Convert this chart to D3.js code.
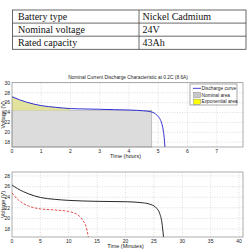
<!DOCTYPE html>
<html>
<head>
<meta charset="utf-8">
<script src="https://cdn.jsdelivr.net/npm/d3@7"></script>
<style>
  body { margin: 0; background: #fff; }
  svg { display: block; }
</style>
</head>
<body>
<div id="fig"></div>
<script>
// datos de la tabla
const tableRows = [
  ["Battery type", "Nickel Cadmium"],
  ["Nominal voltage", "24V"],
  ["Rated capacity", "43Ah"]
];

// grafico superior: descarga nominal (horas, voltios)
const dischargeCurve = [
  [0, 27.2], [0.25, 26.6], [0.5, 26.1], [0.75, 25.7], [1, 25.4], [1.5, 25.05],
  [2, 24.8], [2.5, 24.72], [3, 24.65], [3.5, 24.58], [4, 24.5], [4.5, 24.35],
  [4.78, 24.1], [4.95, 23.5], [5.05, 22.8], [5.12, 21.8], [5.17, 20.5],
  [5.2, 19.2], [5.23, 17]
];
const nominalArea = { tEnd: 4.78, v: 24.4 };
const expEnd = 2;
const topXTicks = [0, 1, 2, 3, 4, 5, 6, 7];
const topYTicks = [18, 20, 22, 24, 26, 28, 30];
const legendItems = ["Discharge curve", "Nominal area", "Exponential area"];

// grafico inferior: minutos, voltios
const blackCurve = [
  [0, 26.3], [1, 25.6], [2, 25.05], [3, 24.6], [5, 23.95], [7.5, 23.6],
  [10, 23.4], [15, 23.22], [20, 23.15], [23, 22.95], [24.5, 22.6],
  [25.5, 21.9], [26, 21.0], [26.4, 19.3], [26.7, 16.5]
];
const redCurve = [
  [0, 24.8], [1, 23.6], [2, 22.8], [3, 22.3], [5, 21.8], [7.5, 21.6],
  [10, 21.3], [11, 21.0], [11.8, 20.5], [12.5, 19.6], [13, 18.6],
  [13.25, 17.6], [13.45, 16.5]
];
const botXTicks = [0, 5, 10, 15, 20, 25, 30, 35, 40];
const botYTicks = [18, 20, 22, 24, 26, 28];

const W = 252, H = 250;
const svg = d3.select("#fig").append("svg").attr("width", W).attr("height", H);

// ---- tabla
const tbl = { x0: 12.5, x1: 246, xDiv: 139, y0: 10, rowH: 13.1 };
const tg = svg.append("g").attr("id", "tabla");
tg.append("rect")
  .attr("x", tbl.x0).attr("y", tbl.y0)
  .attr("width", tbl.x1 - tbl.x0).attr("height", tbl.rowH * tableRows.length)
  .attr("fill", "none").attr("stroke", "#444").attr("stroke-width", 0.8);
tg.append("line")
  .attr("x1", tbl.xDiv).attr("x2", tbl.xDiv)
  .attr("y1", tbl.y0).attr("y2", tbl.y0 + tbl.rowH * tableRows.length)
  .attr("stroke", "#444").attr("stroke-width", 0.8);
tableRows.forEach((r, i) => {
  if (i > 0) {
    tg.append("line")
      .attr("x1", tbl.x0).attr("x2", tbl.x1)
      .attr("y1", tbl.y0 + i * tbl.rowH).attr("y2", tbl.y0 + i * tbl.rowH)
      .attr("stroke", "#444").attr("stroke-width", 0.8);
  }
  const yy = tbl.y0 + i * tbl.rowH + 9.8;
  tg.append("text").attr("x", 18).attr("y", yy).text(r[0])
    .attr("font-family", "Liberation Serif, Times New Roman, serif")
    .attr("font-size", "10px").attr("fill", "#111");
  tg.append("text").attr("x", 142.5).attr("y", yy).text(r[1])
    .attr("font-family", "Liberation Serif, Times New Roman, serif")
    .attr("font-size", "10px").attr("fill", "#111");
});

// ---- funcion para armar un panel
function panel(box, xDom, yDom, xTicks, yTicks, xLabel) {
  const x = d3.scaleLinear().domain(xDom).range([box.left, box.right]);
  const y = d3.scaleLinear().domain(yDom).range([box.bottom, box.top]);
  const g = svg.append("g");

  // rejilla punteada
  g.append("g").selectAll("line").data(xTicks.slice(1)).join("line")
    .attr("x1", d => x(d)).attr("x2", d => x(d))
    .attr("y1", box.top).attr("y2", box.bottom)
    .attr("stroke", "#bbb").attr("stroke-width", 0.5).attr("stroke-dasharray", "1,1.5");
  g.append("g").selectAll("line").data(yTicks).join("line")
    .attr("x1", box.left).attr("x2", box.right)
    .attr("y1", d => y(d)).attr("y2", d => y(d))
    .attr("stroke", "#bbb").attr("stroke-width", 0.5).attr("stroke-dasharray", "1,1.5");

  // etiquetas de ticks
  g.append("g").selectAll("text").data(xTicks).join("text")
    .attr("x", d => x(d)).attr("y", box.bottom + 5.5)
    .attr("text-anchor", "middle")
    .attr("font-family", "Liberation Sans, Arial, sans-serif")
    .attr("font-size", "5px").attr("fill", "#222")
    .text(d => d);
  g.append("g").selectAll("text").data(yTicks).join("text")
    .attr("x", box.left - 2).attr("y", d => y(d) + 1.7)
    .attr("text-anchor", "end")
    .attr("font-family", "Liberation Sans, Arial, sans-serif")
    .attr("font-size", "5px").attr("fill", "#222")
    .text(d => d);

  g.append("text")
    .attr("x", (box.left + box.right) / 2 - 2).attr("y", box.bottom + 11)
    .attr("text-anchor", "middle")
    .attr("font-family", "Liberation Sans, Arial, sans-serif")
    .attr("font-size", "5.5px").attr("fill", "#222")
    .text(xLabel);
  g.append("text")
    .attr("transform", `translate(${box.left - 7.5}, ${(box.top + box.bottom) / 2}) rotate(-90)`)
    .attr("text-anchor", "middle")
    .attr("font-family", "Liberation Sans, Arial, sans-serif")
    .attr("font-size", "5.5px").attr("fill", "#222")
    .text("Voltage (V)");

  return { x, y, g };
}

function frame(box) {
  svg.append("rect")
    .attr("x", box.left).attr("y", box.top)
    .attr("width", box.right - box.left).attr("height", box.bottom - box.top)
    .attr("fill", "none").attr("stroke", "#777").attr("stroke-width", 0.6);
}

// ---- panel superior
const topBox = { left: 12, right: 243, top: 82.7, bottom: 147 };
const P1 = panel(topBox, [0, 7.9], [17, 30.05], topXTicks, topYTicks, "Time (hours)");

svg.append("text")
  .attr("x", 128).attr("y", 78.5)
  .attr("text-anchor", "middle")
  .attr("font-family", "Liberation Sans, Arial, sans-serif")
  .attr("font-size", "4.8px").attr("fill", "#222")
  .text("Nominal Current Discharge Characteristic at 0.2C (8.6A)");

// area nominal
svg.append("rect")
  .attr("x", P1.x(0)).attr("y", P1.y(nominalArea.v))
  .attr("width", P1.x(nominalArea.tEnd) - P1.x(0))
  .attr("height", P1.y(17) - P1.y(nominalArea.v))
  .attr("fill", "#dcdcdc").attr("stroke", "#9a9a9a").attr("stroke-width", 0.5);

// area exponencial
const expPts = dischargeCurve.filter(d => d[0] <= expEnd);
svg.append("path")
  .datum(expPts)
  .attr("d", d3.area()
    .x(d => P1.x(d[0]))
    .y0(P1.y(nominalArea.v))
    .y1(d => P1.y(d[1]))
    .curve(d3.curveMonotoneX))
  .attr("fill", "#e2e29c").attr("stroke", "none");

svg.append("path")
  .datum(dischargeCurve)
  .attr("d", d3.line().x(d => P1.x(d[0])).y(d => P1.y(d[1])).curve(d3.curveMonotoneX))
  .attr("fill", "none").attr("stroke", "#2f2fd0").attr("stroke-width", 1);

frame(topBox);

// leyenda
const lg = svg.append("g").attr("transform", "translate(190,84)");
lg.append("rect").attr("width", 47).attr("height", 21)
  .attr("fill", "#fff").attr("stroke", "#555").attr("stroke-width", 0.5);
const legRow = d3.scaleBand().domain(legendItems).range([1, 21]);
lg.append("line")
  .attr("x1", 3).attr("x2", 11)
  .attr("y1", legRow(legendItems[0]) + legRow.bandwidth() / 2)
  .attr("y2", legRow(legendItems[0]) + legRow.bandwidth() / 2)
  .attr("stroke", "#2f2fd0").attr("stroke-width", 0.9);
lg.append("rect").attr("x", 3.5).attr("y", legRow(legendItems[1]) + 0.8)
  .attr("width", 7).attr("height", legRow.bandwidth() - 1.6)
  .attr("fill", "#c8c8c8").attr("stroke", "#777").attr("stroke-width", 0.4);
lg.append("rect").attr("x", 3.5).attr("y", legRow(legendItems[2]) + 0.8)
  .attr("width", 7).attr("height", legRow.bandwidth() - 1.6)
  .attr("fill", "#ffff00").attr("stroke", "#777").attr("stroke-width", 0.4);
lg.selectAll("text.leg").data(legendItems).join("text")
  .attr("class", "leg")
  .attr("x", 11.5).attr("y", d => legRow(d) + legRow.bandwidth() / 2 + 1.7)
  .attr("font-family", "Liberation Sans, Arial, sans-serif")
  .attr("font-size", "4.8px").attr("fill", "#222")
  .text(d => d);

// ---- panel inferior
const botBox = { left: 12, right: 243, top: 172, bottom: 237 };
const P2 = panel(botBox, [0, 40.7], [16.5, 28.75], botXTicks, botYTicks, "Time (Minutes)");

svg.append("path")
  .datum(redCurve)
  .attr("d", d3.line().x(d => P2.x(d[0])).y(d => P2.y(d[1])).curve(d3.curveMonotoneX))
  .attr("fill", "none").attr("stroke", "#e03a3a").attr("stroke-width", 0.9)
  .attr("stroke-dasharray", "2.5,1.5");
svg.append("path")
  .datum(blackCurve)
  .attr("d", d3.line().x(d => P2.x(d[0])).y(d => P2.y(d[1])).curve(d3.curveMonotoneX))
  .attr("fill", "none").attr("stroke", "#111").attr("stroke-width", 0.9);

frame(botBox);
</script>
</body>
</html>
